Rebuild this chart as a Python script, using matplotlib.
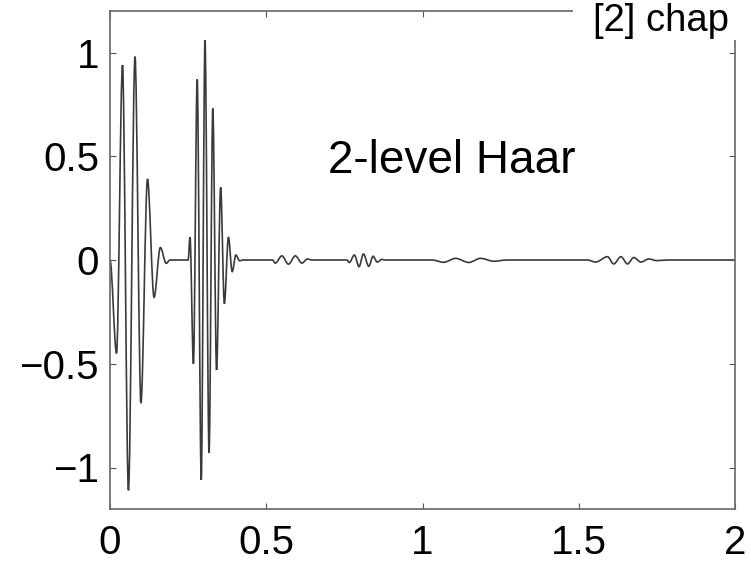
import matplotlib
matplotlib.use("Agg")
import matplotlib.pyplot as plt
from matplotlib.patches import Rectangle, PathPatch
from matplotlib.path import Path

# reconstructed signal: turning points of the 2-level Haar response
t = [0.000, 0.021, 0.040, 0.059, 0.080, 0.099, 0.120, 0.141, 0.161, 0.180, 0.192,
     0.250, 0.256, 0.267, 0.279, 0.292, 0.304, 0.317, 0.329, 0.341, 0.354, 0.366,
     0.379, 0.391, 0.403, 0.415, 0.425,
     0.520, 0.529, 0.550, 0.571, 0.593, 0.614, 0.632, 0.645,
     0.758, 0.766, 0.782, 0.797, 0.811, 0.828, 0.842, 0.855, 0.870, 0.880,
     1.030, 1.068, 1.106, 1.148, 1.186, 1.228, 1.270,
     1.528, 1.554, 1.592, 1.612, 1.635, 1.656, 1.676, 1.699, 1.724, 1.750, 1.784,
     2.000]
amp = [0.00, -0.45, 0.94, -1.11, 0.98, -0.69, 0.39, -0.18, 0.06, -0.016, 0.0,
       0.0, 0.11, -0.50, 0.87, -1.06, 1.06, -0.93, 0.73, -0.53, 0.35, -0.21,
       0.11, -0.056, 0.024, -0.004, 0.0,
       0.0, -0.015, 0.02, -0.02, 0.02, -0.015, 0.005, 0.0,
       0.0, -0.012, 0.024, -0.032, 0.029, -0.03, 0.018, -0.01, 0.003, 0.0,
       0.0, -0.011, 0.008, -0.012, 0.008, -0.006, 0.0,
       0.0, -0.01, 0.016, -0.019, 0.016, -0.019, 0.012, -0.01, 0.005, -0.003, 0.0,
       0.0]

xticks = [0, 0.5, 1, 1.5, 2]
xtick_labels = ["0", "0.5", "1", "1.5", "2"]
yticks = [-1, -0.5, 0, 0.5, 1]
ytick_labels = ["\u22121", "\u22120.5", "0", "0.5", "1"]

plt.rcParams["font.family"] = ["Liberation Sans", "DejaVu Sans"]


def wave_path(xs, ys):
    # cubic segments with flat tangents at each turning point
    verts = [(xs[0], ys[0])]
    codes = [Path.MOVETO]
    for i in range(len(xs) - 1):
        x0, y0, x1, y1 = xs[i], ys[i], xs[i + 1], ys[i + 1]
        d = (x1 - x0) / 3
        verts += [(x0 + d, y0), (x1 - d, y1), (x1, y1)]
        codes += [Path.CURVE4] * 3
    return Path(verts, codes)


fig = plt.figure(figsize=(7.51, 5.62), dpi=100)
ax = fig.add_axes([110 / 751, 1 - 509 / 562, 625 / 751, 498 / 562])

ax.add_patch(PathPatch(wave_path(t, amp), facecolor="none",
                       edgecolor="#3a3a3a", lw=1.2))

ax.set_xlim(0, 2)
ax.set_ylim(-1.2, 1.2)
ax.set_xticks(xticks)
ax.set_xticklabels(xtick_labels)
ax.set_yticks(yticks)
ax.set_yticklabels(ytick_labels)
ax.tick_params(direction="in", length=4, width=0.8, color="#555555",
               top=True, right=True, labelsize=29, labelcolor="black")
ax.tick_params(axis="x", pad=11)
ax.tick_params(axis="y", pad=8)
for s in ax.spines.values():
    s.set_color("#666666")
    s.set_linewidth(1.2)

ax.text(0.699, 0.418, "2-level Haar", fontsize=33, ha="left", va="baseline")

# white patch behind the caption in the top-right corner
fig.patches.append(Rectangle((573 / 751, 1 - 40 / 562), 1, 40 / 562,
                             transform=fig.transFigure, facecolor="white",
                             edgecolor="none", zorder=5))
fig.text(593 / 751, 1 - 31 / 562, "[2] chap", fontsize=27.5, ha="left",
         va="baseline", zorder=6)

fig.savefig("out.png", dpi=100)
